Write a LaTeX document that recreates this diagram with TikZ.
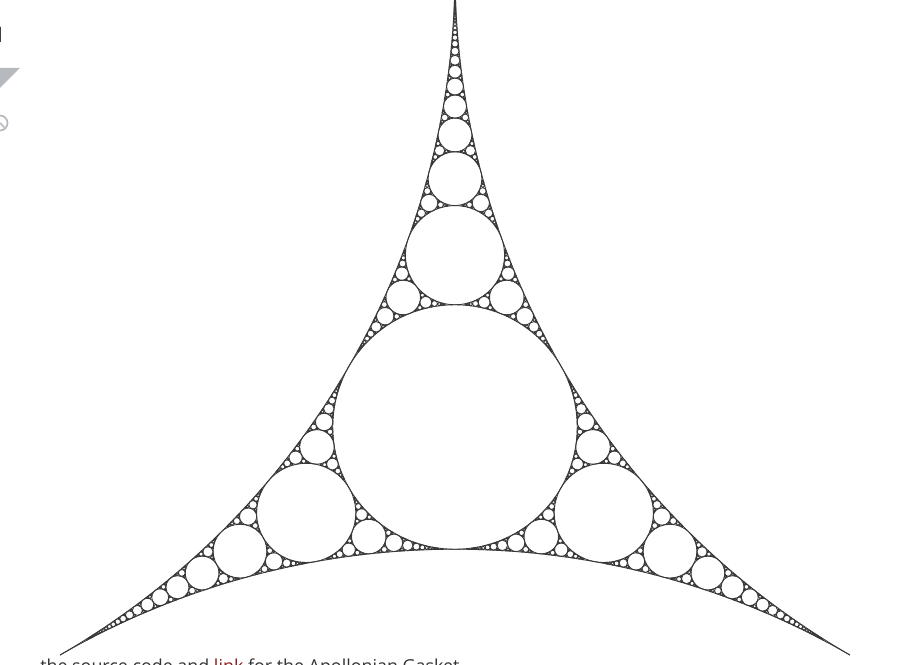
\documentclass[tikz,border=0pt]{standalone}
\usepackage{fontspec}
\setmainfont{Open Sans}
\usepackage{xcolor}
\usepackage{tikz}
\definecolor{ink}{HTML}{383838}
\definecolor{chrome}{HTML}{B6BABF}
\definecolor{page}{HTML}{333333}
\definecolor{link}{HTML}{8E1B1B}
\tikzset{
  disc/.style={draw=ink, line width=0.65pt},
  icon/.style={draw=chrome, line width=1.3pt},
  note/.style={text=page, font=\fontsize{13.4}{16}\selectfont, inner sep=0pt},
}
% circles are written k/kx/ky: curvature, curvature times centre
\newcommand\apscale{790}
\newcommand\apkmax{1250}
\ExplSyntaxOn
\cs_new:Npn \apval #1 { \fp_to_decimal:n { round( #1 , 3 ) } }
\ExplSyntaxOff
\def\apgap#1/#2/#3;#4/#5/#6;#7/#8/#9;{%
  \edef\apsum{\fpeval{2*((#1)+(#4)+(#7))}/\fpeval{2*((#2)+(#5)+(#8))}/\fpeval{2*((#3)+(#6)+(#9))}}%
  \edef\apabc{#1/#2/#3;#4/#5/#6;#7/#8/#9;}%
  \apnext}
\def\apnext#1;{\expandafter\apnew\apsum;#1;}
\def\apnew#1/#2/#3;#4/#5/#6;{%
  \edef\apk{\fpeval{(#1)-(#4)}}%
  \ifnum\fpeval{\apk<\apkmax}=1\relax
    \edef\apx{\fpeval{(#2)-(#5)}}\edef\apy{\fpeval{(#3)-(#6)}}%
    \draw[disc] (\apval{\apscale*\apx/\apk},\apval{\apscale*\apy/\apk})
      circle[radius=\apval{\apscale/\apk}];
    \edef\apnow{\noexpand\apthree\apabc\apk/\apx/\apy;}%
    \apnow
  \fi}
\def\apthree#1;#2;#3;#4;{\apgap#1;#2;#4;#3;\apgap#1;#3;#4;#2;\apgap#2;#3;#4;#1;}

\begin{document}
\begin{tikzpicture}[x=0.75pt,y=0.75pt]
  \useasboundingbox (-455,-237) rectangle (455,427);
  \fill[white] (-455,-237) rectangle (455,427);
  \begin{scope}
    \clip (-455,-237) rectangle (455,427);
    % the three big circles, cusp to cusp
    \foreach \cx/\cy/\from/\to in {0/-912.21/60/120,-790/456.11/-60/0,790/456.11/180/240}
      \draw[disc] (\cx,\cy) ++(\from:790) arc[start angle=\from,end angle=\to,radius=790];
    \apgap 1/0/-1.1547005383792515;1/-1/0.5773502691896258;1/1/0.5773502691896258;-0.4641016151377546/0/0;
    % page bits round the picture
    \node[note, font=\fontsize{16}{18}\selectfont, anchor=south east] (num) at (-449,384) {1};
    \fill[chrome] (-455,359) -- (-435,359) -- (-455,339) -- cycle;
    \draw[icon] (-455,304) circle[radius=7.5];
    \draw[icon] (-455,304) -- ++(4.5,-4.5);
    \node[note, anchor=base west] (caption) at (-415,-245)
      {the source code and \textcolor{link}{link} for the Apollonian Gasket};
  \end{scope}
\end{tikzpicture}
\end{document}
